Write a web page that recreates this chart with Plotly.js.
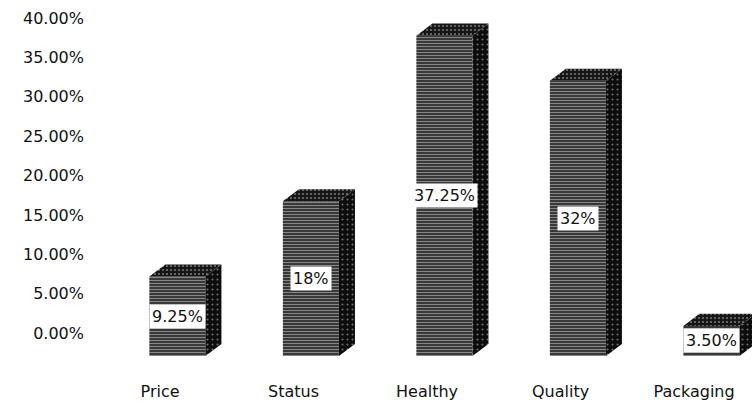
<!DOCTYPE html>
<html>
<head>
<meta charset="utf-8">
<script src="https://cdn.plot.ly/plotly-3.0.1.min.js"></script>
<style>
  html, body { margin: 0; padding: 0; background: #ffffff; }
  #chart { width: 752px; height: 415px; }
</style>
</head>
<body>
<div id="chart"></div>
<script>
// Share of respondents by purchase factor
const categories = ['Price', 'Status', 'Healthy', 'Quality', 'Packaging'];
const shares = [9.25, 18, 37.25, 32, 3.5];
const valueLabels = ['9.25%', '18%', '37.25%', '32%', '3.50%'];
const yTickValues = [0, 5, 10, 15, 20, 25, 30, 35, 40];
const yTickLabels = ['0.00%', '5.00%', '10.00%', '15.00%', '20.00%', '25.00%', '30.00%', '35.00%', '40.00%'];

// Pseudo-3D column geometry (axis units)
const barShift = 0.13;   // front face sits right of the category tick
const barWidth = 0.42;
const depthX = 0.12;     // receding depth, x direction
const depthY = 1.4;      // receding depth, y direction (percent units)

const idx = categories.map((_, i) => i);
const centers = idx.map(i => i + barShift);

// Side and top faces as closed polygons, separated by nulls
const sideX = [], sideY = [], topX = [], topY = [];
centers.forEach((c, i) => {
  const v = shares[i];
  const xl = c - barWidth / 2, xr = c + barWidth / 2;
  sideX.push(xr, xr + depthX, xr + depthX, xr, xr, null);
  sideY.push(0, depthY, v + depthY, v, 0, null);
  topX.push(xl, xr, xr + depthX, xl + depthX, xl, null);
  topY.push(v, v, v + depthY, v + depthY, v, null);
});

const font = 'DejaVu Sans, Verdana, sans-serif';

const traces = [
  // empty trace that registers the back-wall percentage axis
  { type: 'scatter', x: [], y: [], xaxis: 'x', yaxis: 'y', mode: 'markers', hoverinfo: 'skip' },
  {
    type: 'bar',
    x: centers,
    y: shares,
    width: barWidth,
    xaxis: 'x',
    yaxis: 'y2',
    marker: {
      color: '#2c2c2c',
      line: { width: 0 },
      pattern: { shape: '-', fgcolor: '#e4e4e4', fillmode: 'overlay', size: 3, solidity: 0.42 }
    },
    hoverinfo: 'skip'
  },
  {
    type: 'scatter',
    x: sideX,
    y: sideY,
    xaxis: 'x',
    yaxis: 'y2',
    mode: 'lines',
    fill: 'toself',
    fillcolor: '#0c0c0c',
    fillpattern: { shape: '.', fgcolor: '#d0d0d0', fillmode: 'overlay', size: 5, solidity: 0.14 },
    line: { width: 0, color: '#0c0c0c' },
    hoverinfo: 'skip'
  },
  {
    type: 'scatter',
    x: topX,
    y: topY,
    xaxis: 'x',
    yaxis: 'y2',
    mode: 'lines',
    fill: 'toself',
    fillcolor: '#161616',
    fillpattern: { shape: '.', fgcolor: '#d4d4d4', fillmode: 'overlay', size: 4, solidity: 0.22 },
    line: { width: 0, color: '#161616' },
    hoverinfo: 'skip'
  }
];

// White-boxed value labels at mid-height of each front face
const annotations = centers.map((c, i) => ({
  x: c,
  y: shares[i] / 2,
  xref: 'x',
  yref: 'y2',
  text: valueLabels[i],
  showarrow: false,
  bgcolor: '#ffffff',
  borderpad: 2,
  font: { family: font, size: 16, color: '#111111' }
}));

const layout = {
  width: 752,
  height: 415,
  margin: { l: 85, r: 0, t: 5, b: 35 },
  paper_bgcolor: '#ffffff',
  plot_bgcolor: 'rgba(0,0,0,0)',
  showlegend: false,
  xaxis: {
    range: [-0.562, 4.434],
    anchor: 'free',
    position: 0,
    tickmode: 'array',
    tickvals: idx,
    ticktext: categories,
    ticks: '',
    showline: false,
    showgrid: false,
    zeroline: false,
    tickfont: { family: font, size: 16, color: '#111111' },
    fixedrange: true
  },
  yaxis: {
    domain: [0.1253, 0.9653],
    range: [0, 40],
    anchor: 'x',
    tickmode: 'array',
    tickvals: yTickValues,
    ticktext: yTickLabels,
    ticks: '',
    showline: false,
    showgrid: false,
    zeroline: false,
    tickfont: { family: font, size: 16, color: '#111111' },
    fixedrange: true
  },
  yaxis2: {
    domain: [0.064, 0.9813],
    range: [0, 40],
    anchor: 'x',
    visible: false,
    showgrid: false,
    zeroline: false,
    fixedrange: true
  },
  annotations: annotations
};

Plotly.newPlot('chart', traces, layout, { displayModeBar: false, staticPlot: true });
</script>
</body>
</html>
